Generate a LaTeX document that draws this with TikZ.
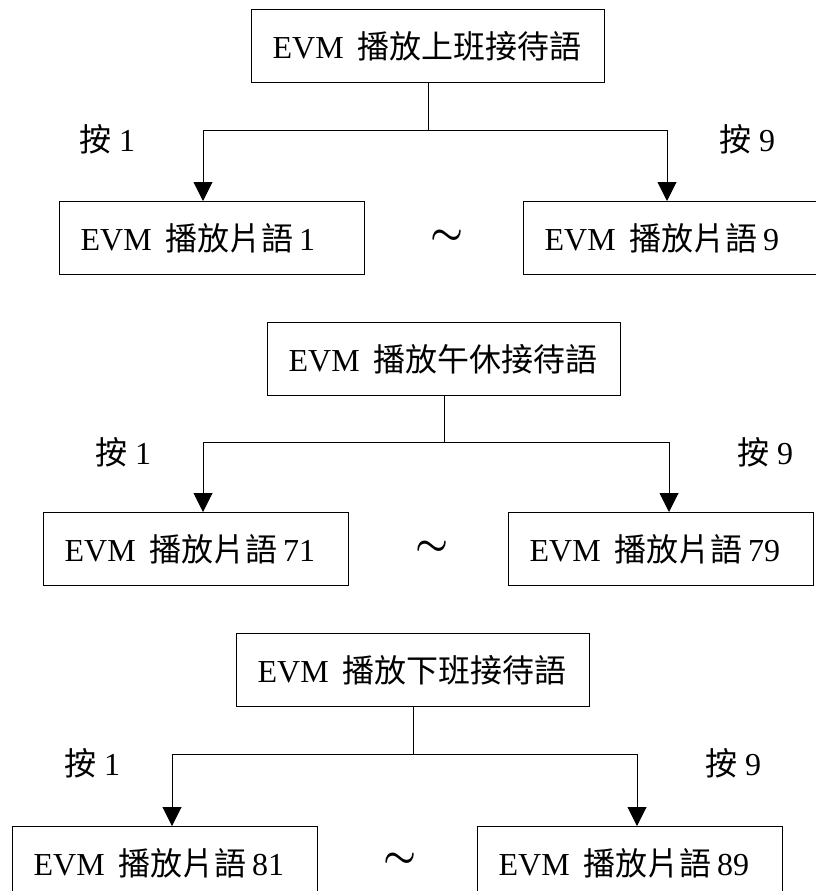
\documentclass[tikz,border=0pt]{standalone}
\usepackage{fontspec}
\setmainfont{Liberation Serif}
\newfontfamily\cjk{Noto Sans CJK TC}
\usetikzlibrary{arrows.meta}
\begin{document}
\begin{tikzpicture}[x=1pt,y=-1pt,
  txt/.style={font=\fontsize{32}{36}\selectfont},
  topbox/.style={txt, draw, line width=1.3pt, anchor=north west, inner xsep=21pt, inner ysep=0pt,
    minimum height=73pt, text width=311pt, align=left},
  leafbox/.style={txt, draw, line width=1.3pt, anchor=north west, inner xsep=21pt, inner ysep=0pt,
    minimum height=73pt, text width=263pt, align=left},
  lab/.style={txt, anchor=west, inner sep=0pt},
  tilde/.style={inner sep=0pt},
  link/.style={line width=1pt},
  arr/.style={line width=1pt, -{Triangle[width=19pt,length=19pt]}}]
\useasboundingbox (0,0) rectangle (816,891);
\clip (0,0) rectangle (816,891);
% ---------- block 1
\node[topbox] (t1) at (251,9) {EVM\hspace{14pt}{\cjk 播放上班接待語}};
\node[leafbox] (l1) at (59,201) {EVM\hspace{14pt}{\cjk 播放片語}\,1};
\node[leafbox] (r1) at (523,201) {EVM\hspace{14pt}{\cjk 播放片語}\,9};
\node[tilde] (s1) at (447,237) {\scalebox{3.7}{\boldmath$\sim$}};
\node[lab] (k11) at (79,139) {{\cjk 按} 1};
\node[lab] (k19) at (719,139) {{\cjk 按} 9};
\coordinate (j1) at (t1.south |- 0,130);
\coordinate (a11) at (203,0);
\coordinate (a19) at (667,0);
\draw[link] (t1.south) -- (j1);
\draw[arr] (j1) -| (a11 |- l1.north);
\draw[arr] (j1) -| (a19 |- r1.north);
% ---------- block 2
\node[topbox] (t2) at (267,322) {EVM\hspace{14pt}{\cjk 播放午休接待語}};
\node[leafbox] (l2) at (43,512) {EVM\hspace{14pt}{\cjk 播放片語}\,71};
\node[leafbox] (r2) at (508,512) {EVM\hspace{14pt}{\cjk 播放片語}\,79};
\node[tilde] (s2) at (432,548) {\scalebox{3.7}{\boldmath$\sim$}};
\node[lab] (k21) at (95,452) {{\cjk 按} 1};
\node[lab] (k29) at (737,452) {{\cjk 按} 9};
\coordinate (j2) at (t2.south |- 0,442);
\coordinate (a21) at (203,0);
\coordinate (a29) at (669,0);
\draw[link] (t2.south) -- (j2);
\draw[arr] (j2) -| (a21 |- l2.north);
\draw[arr] (j2) -| (a29 |- r2.north);
% ---------- block 3
\node[topbox] (t3) at (236,633) {EVM\hspace{14pt}{\cjk 播放下班接待語}};
\node[leafbox] (l3) at (12,826) {EVM\hspace{14pt}{\cjk 播放片語}\,81};
\node[leafbox] (r3) at (477,826) {EVM\hspace{14pt}{\cjk 播放片語}\,89};
\node[tilde] (s3) at (400,860) {\scalebox{3.7}{\boldmath$\sim$}};
\node[lab] (k31) at (64,763) {{\cjk 按} 1};
\node[lab] (k39) at (705,763) {{\cjk 按} 9};
\coordinate (j3) at (t3.south |- 0,754);
\coordinate (a31) at (172,0);
\coordinate (a39) at (637,0);
\draw[link] (t3.south) -- (j3);
\draw[arr] (j3) -| (a31 |- l3.north);
\draw[arr] (j3) -| (a39 |- r3.north);
\end{tikzpicture}
\end{document}
